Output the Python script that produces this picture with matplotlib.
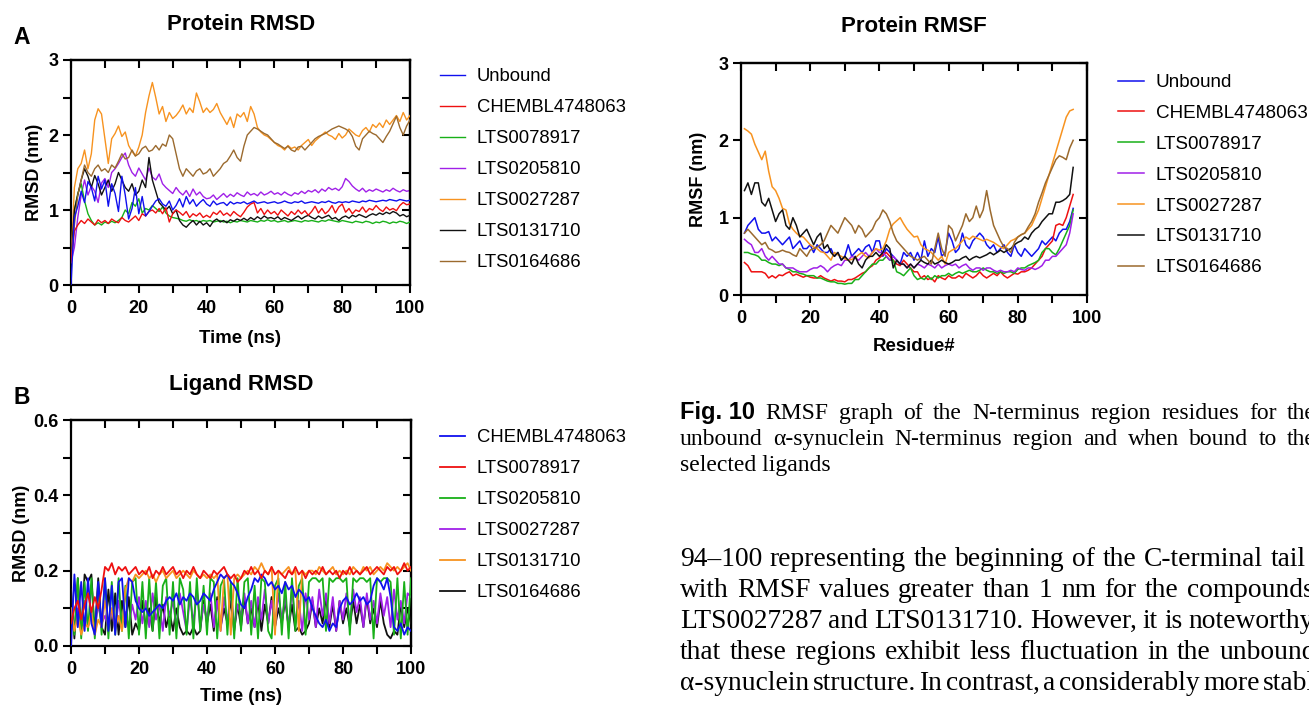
import numpy as np
import matplotlib
matplotlib.use("Agg")
import matplotlib.pyplot as plt
from matplotlib.ticker import MultipleLocator

W, H = 1309, 706

# ---------------- data ----------------
labels_A = ["Unbound", "CHEMBL4748063", "LTS0078917", "LTS0205810",
            "LTS0027287", "LTS0131710", "LTS0164686"]
labels_B = ["CHEMBL4748063", "LTS0078917", "LTS0205810", "LTS0027287",
            "LTS0131710", "LTS0164686"]
colors = ["#1010ee", "#ee1010", "#18b018", "#a020e8", "#f79320", "#111111", "#9b6a2e"]

# Protein RMSD (nm), one value per ns, 0..100
rmsd_unbound = [0.00, 0.90, 1.05, 1.25, 1.10, 1.38, 1.30, 1.12, 1.45, 1.28, 1.40,
                1.05, 1.35, 1.22, 0.98, 1.45, 1.20, 0.88, 1.02, 1.30, 0.95,
                1.18, 0.92, 0.98, 1.05, 1.12, 1.15, 1.08, 1.05, 1.12, 1.00,
                1.06, 1.15, 1.04, 1.18, 1.08, 1.14, 1.05, 1.10, 1.14, 1.08,
                1.05, 1.12, 1.07, 1.09, 1.10, 1.06, 1.11, 1.08, 1.10, 1.09,
                1.11, 1.08, 1.10, 1.12, 1.09, 1.10, 1.11, 1.09, 1.10, 1.11,
                1.09, 1.10, 1.12, 1.10, 1.09, 1.11, 1.10, 1.12, 1.09, 1.10,
                1.11, 1.10, 1.09, 1.11, 1.10, 1.12, 1.10, 1.09, 1.11, 1.10,
                1.11, 1.10, 1.12, 1.11, 1.10, 1.12, 1.11, 1.13, 1.12, 1.11,
                1.12, 1.13, 1.12, 1.14, 1.13, 1.12, 1.14, 1.13, 1.12, 1.13]
rmsd_chembl = [0.30, 0.72, 0.80, 0.86, 0.82, 0.88, 0.84, 0.80, 0.87, 0.83, 0.86,
               0.82, 0.88, 0.85, 0.83, 0.90, 0.86, 0.84, 0.88, 0.92, 0.86,
               0.95, 0.92, 0.98, 1.00, 0.96, 1.02, 0.95, 1.03, 0.84, 0.95,
               1.00, 0.97, 0.93, 0.98, 0.90, 0.95, 0.92, 0.96, 0.90, 0.93,
               0.90, 0.97, 0.94, 0.99, 0.93, 0.96, 0.92, 0.98, 0.94, 0.91,
               0.97, 1.04, 1.08, 1.10, 0.96, 1.02, 0.94, 1.00, 0.95, 0.98,
               0.93, 1.00, 0.96, 0.92, 0.98, 0.94, 1.00, 0.95, 0.99, 0.93,
               0.98, 1.05, 0.96, 1.02, 0.95, 0.99, 1.06, 0.96, 1.04, 1.08,
               0.97, 1.02, 0.95, 1.00, 0.98, 1.04, 0.97, 1.02, 1.00, 1.06,
               1.01, 0.98, 1.04, 1.00, 1.02, 0.99, 1.06, 1.10, 1.07, 1.08]
rmsd_78917 = [0.30, 1.00, 1.22, 1.35, 1.12, 0.95, 0.86, 0.80, 0.83, 0.80, 0.84,
              0.82, 0.85, 0.83, 0.86, 0.90, 1.00, 0.95, 1.10, 1.05, 1.15,
              0.96, 1.02, 1.00, 1.06, 1.02, 0.98, 1.04, 0.96, 0.92, 0.90,
              0.89, 0.88, 0.86, 0.85, 0.87, 0.85, 0.86, 0.84, 0.86, 0.85,
              0.86, 0.84, 0.85, 0.86, 0.84, 0.85, 0.83, 0.85, 0.84, 0.86,
              0.85, 0.84, 0.86, 0.85, 0.84, 0.86, 0.85, 0.87, 0.85, 0.86,
              0.84, 0.85, 0.86, 0.84, 0.85, 0.86, 0.85, 0.84, 0.86, 0.85,
              0.86, 0.85, 0.84, 0.86, 0.85, 0.87, 0.86, 0.85, 0.84, 0.86,
              0.85, 0.84, 0.83, 0.85, 0.84, 0.83, 0.85, 0.84, 0.82, 0.84,
              0.83, 0.85, 0.84, 0.82, 0.84, 0.83, 0.85, 0.84, 0.82, 0.84]
rmsd_205810 = [0.30, 0.50, 0.90, 1.20, 1.40, 1.20, 1.32, 1.25, 1.10, 1.36, 1.42,
               1.30, 1.50, 1.55, 1.62, 1.70, 1.76, 1.60, 1.50, 1.45, 1.56,
               1.48, 1.40, 1.56, 1.44, 1.40, 1.48, 1.35, 1.30, 1.26, 1.22,
               1.30, 1.24, 1.20, 1.26, 1.18, 1.28, 1.20, 1.24, 1.18, 1.15,
               1.16, 1.20, 1.14, 1.18, 1.22, 1.17, 1.21, 1.18, 1.23, 1.20,
               1.18, 1.24, 1.20, 1.22, 1.19, 1.24, 1.20, 1.22, 1.25, 1.21,
               1.23, 1.20, 1.24, 1.21, 1.19, 1.23, 1.21, 1.25, 1.22, 1.26,
               1.24, 1.27, 1.23, 1.28, 1.25, 1.30, 1.27, 1.29, 1.26, 1.31,
               1.42, 1.38, 1.32, 1.28, 1.25, 1.29, 1.24, 1.27, 1.25, 1.28,
               1.26, 1.24, 1.27, 1.25, 1.29, 1.26, 1.24, 1.27, 1.25, 1.26]
rmsd_27287 = [0.30, 1.30, 1.55, 1.62, 1.80, 1.55, 1.75, 2.20, 2.35, 2.28, 1.95,
              1.62, 1.95, 2.02, 2.12, 1.98, 2.04, 1.86, 1.78, 1.72, 1.84,
              2.00, 2.30, 2.52, 2.70, 2.50, 2.28, 2.38, 2.18, 2.30, 2.22,
              2.26, 2.32, 2.40, 2.28, 2.36, 2.30, 2.56, 2.44, 2.30, 2.36,
              2.30, 2.34, 2.42, 2.30, 2.22, 2.14, 2.24, 2.10, 2.28, 2.24,
              2.30, 2.18, 2.38, 2.28, 2.10, 2.04, 2.00, 1.98, 1.94, 1.90,
              1.86, 1.84, 1.80, 1.86, 1.82, 1.84, 1.80, 1.86, 1.90, 1.94,
              1.86, 1.92, 1.96, 2.00, 2.04, 2.00, 1.98, 1.94, 2.02, 1.96,
              2.00, 2.08, 2.04, 2.00, 1.98, 2.06, 2.10, 2.04, 2.14, 2.10,
              2.16, 2.10, 2.20, 2.14, 2.20, 2.26, 2.18, 2.30, 2.20, 2.26]
rmsd_131710 = [0.30, 1.00, 1.20, 1.40, 1.55, 1.45, 1.30, 1.46, 1.35, 1.20, 1.30,
               1.40, 1.25, 1.35, 1.50, 1.40, 1.30, 1.25, 1.35, 1.20, 1.25,
               1.40, 1.30, 1.70, 1.40, 1.25, 1.10, 1.05, 1.00, 1.05, 0.95,
               1.00, 0.86, 0.80, 0.77, 0.82, 0.86, 0.80, 0.85, 0.80, 0.83,
               0.78, 0.85, 0.88, 0.84, 0.86, 0.83, 0.87, 0.85, 0.88, 0.86,
               0.89, 0.86, 0.90, 0.87, 0.91, 0.88, 0.92, 0.89, 0.90, 0.88,
               0.91, 0.87, 0.90, 0.88, 0.86, 0.89, 0.92, 0.88, 0.91, 0.93,
               0.90, 0.88, 0.92, 0.89, 0.91, 0.93, 0.88, 0.90, 0.86, 0.90,
               0.92, 0.89, 0.93, 0.91, 0.94, 0.92, 0.90, 0.93, 0.95, 0.93,
               0.96, 0.94, 0.97, 0.95, 0.98, 0.96, 0.92, 0.94, 0.91, 0.93]
rmsd_164686 = [0.30, 0.80, 1.20, 1.40, 1.60, 1.50, 1.45, 1.55, 1.60, 1.52, 1.55,
               1.50, 1.60, 1.56, 1.65, 1.75, 1.68, 1.70, 1.80, 1.72, 1.75,
               1.82, 1.85, 1.78, 1.80, 1.86, 1.80, 1.88, 1.85, 2.00, 1.95,
               1.75, 1.55, 1.45, 1.55, 1.50, 1.45, 1.52, 1.55, 1.48, 1.50,
               1.55, 1.45, 1.50, 1.55, 1.62, 1.65, 1.72, 1.80, 1.70, 1.65,
               1.85, 2.00, 2.05, 2.10, 2.08, 2.05, 2.02, 2.00, 1.95, 1.90,
               1.88, 1.85, 1.82, 1.85, 1.80, 1.78, 1.84, 1.85, 1.80, 1.85,
               1.90, 1.95, 1.98, 2.00, 2.02, 2.05, 2.08, 2.10, 2.12, 2.10,
               2.08, 2.05, 1.98, 1.85, 1.80, 1.95, 2.00, 2.05, 2.02, 2.00,
               1.95, 1.90, 1.98, 2.05, 2.15, 2.25, 2.10, 2.00, 2.12, 2.20]

# Ligand RMSD (nm), one value per ns, 0..100
lig_chembl = [0.00, 0.19, 0.05, 0.17, 0.04, 0.18, 0.06, 0.03, 0.17, 0.05, 0.18,
              0.04, 0.16, 0.03, 0.17, 0.18, 0.05, 0.18, 0.17, 0.12, 0.10,
              0.09, 0.10, 0.08, 0.09, 0.10, 0.11, 0.10, 0.12, 0.13, 0.12,
              0.14, 0.11, 0.13, 0.12, 0.14, 0.13, 0.11, 0.12, 0.14, 0.13,
              0.12, 0.15, 0.17, 0.19, 0.18, 0.19, 0.17, 0.16, 0.14, 0.11,
              0.10, 0.13, 0.15, 0.18, 0.17, 0.19, 0.18, 0.16, 0.17, 0.15,
              0.16, 0.14, 0.17, 0.15, 0.16, 0.13, 0.15, 0.14, 0.12, 0.13,
              0.10, 0.08, 0.06, 0.05, 0.07, 0.04, 0.06, 0.05, 0.10, 0.12,
              0.13, 0.11, 0.12, 0.14, 0.12, 0.13, 0.11, 0.12, 0.16, 0.18,
              0.17, 0.15, 0.18, 0.13, 0.05, 0.04, 0.06, 0.03, 0.05, 0.04]
lig_78917 = [0.06, 0.10, 0.12, 0.07, 0.11, 0.14, 0.09, 0.13, 0.10, 0.15, 0.21,
             0.20, 0.22, 0.19, 0.21, 0.20, 0.21, 0.19, 0.20, 0.21, 0.19,
             0.20, 0.19, 0.21, 0.18, 0.20, 0.19, 0.21, 0.19, 0.20, 0.21,
             0.19, 0.20, 0.18, 0.20, 0.19, 0.21, 0.19, 0.18, 0.20, 0.19,
             0.18, 0.20, 0.19, 0.20, 0.21, 0.19, 0.18, 0.19, 0.17, 0.18,
             0.20, 0.19, 0.21, 0.19, 0.20, 0.18, 0.20, 0.19, 0.21, 0.19,
             0.20, 0.19, 0.18, 0.20, 0.19, 0.21, 0.19, 0.20, 0.18, 0.20,
             0.19, 0.20, 0.19, 0.21, 0.19, 0.20, 0.19, 0.20, 0.18, 0.20,
             0.19, 0.21, 0.19, 0.20, 0.19, 0.20, 0.21, 0.19, 0.20, 0.21,
             0.20, 0.19, 0.21, 0.20, 0.21, 0.19, 0.20, 0.22, 0.20, 0.21]
lig_205810 = [0.10, 0.03, 0.18, 0.02, 0.17, 0.04, 0.18, 0.02, 0.16, 0.03, 0.18,
              0.02, 0.17, 0.03, 0.18, 0.04, 0.16, 0.02, 0.17, 0.18, 0.03,
              0.17, 0.02, 0.18, 0.04, 0.17, 0.02, 0.16, 0.18, 0.03, 0.17,
              0.02, 0.18, 0.15, 0.03, 0.17, 0.02, 0.18, 0.04, 0.16, 0.03,
              0.18, 0.17, 0.02, 0.16, 0.18, 0.03, 0.17, 0.02, 0.18, 0.04,
              0.17, 0.18, 0.03, 0.16, 0.02, 0.18, 0.17, 0.04, 0.02, 0.16,
              0.18, 0.03, 0.17, 0.02, 0.18, 0.04, 0.16, 0.18, 0.03, 0.17,
              0.18, 0.18, 0.17, 0.18, 0.04, 0.18, 0.17, 0.18, 0.18, 0.17,
              0.18, 0.03, 0.18, 0.17, 0.18, 0.18, 0.17, 0.18, 0.02, 0.18,
              0.17, 0.18, 0.18, 0.17, 0.03, 0.18, 0.02, 0.17, 0.03, 0.18]
lig_27287 = [0.08, 0.05, 0.10, 0.06, 0.12, 0.05, 0.09, 0.04, 0.11, 0.06, 0.08,
             0.05, 0.10, 0.04, 0.12, 0.06, 0.09, 0.05, 0.11, 0.07, 0.13,
             0.06, 0.12, 0.05, 0.14, 0.07, 0.11, 0.04, 0.13, 0.08, 0.12,
             0.05, 0.14, 0.09, 0.04, 0.13, 0.06, 0.15, 0.05, 0.11, 0.07,
             0.14, 0.05, 0.12, 0.04, 0.13, 0.06, 0.15, 0.05, 0.11, 0.08,
             0.14, 0.06, 0.12, 0.05, 0.13, 0.07, 0.15, 0.06, 0.12, 0.05,
             0.14, 0.07, 0.13, 0.05, 0.15, 0.06, 0.12, 0.04, 0.14, 0.07,
             0.13, 0.05, 0.15, 0.08, 0.14, 0.06, 0.13, 0.04, 0.12, 0.07,
             0.14, 0.06, 0.15, 0.09, 0.13, 0.05, 0.14, 0.07, 0.12, 0.06,
             0.14, 0.08, 0.13, 0.05, 0.15, 0.07, 0.12, 0.06, 0.14, 0.13]
lig_131710 = [0.10, 0.04, 0.08, 0.03, 0.06, 0.05, 0.09, 0.03, 0.07, 0.05, 0.12,
              0.06, 0.10, 0.05, 0.08, 0.04, 0.15, 0.18, 0.17, 0.19, 0.18,
              0.19, 0.20, 0.18, 0.19, 0.17, 0.19, 0.20, 0.18, 0.19, 0.20,
              0.18, 0.19, 0.20, 0.19, 0.18, 0.20, 0.19, 0.18, 0.19, 0.18,
              0.19, 0.18, 0.19, 0.04, 0.18, 0.19, 0.03, 0.18, 0.19, 0.18,
              0.19, 0.20, 0.19, 0.21, 0.20, 0.22, 0.20, 0.19, 0.21, 0.03,
              0.20, 0.19, 0.20, 0.21, 0.19, 0.20, 0.04, 0.20, 0.19, 0.20,
              0.20, 0.19, 0.21, 0.20, 0.19, 0.20, 0.21, 0.19, 0.20, 0.19,
              0.20, 0.19, 0.21, 0.20, 0.19, 0.21, 0.20, 0.21, 0.19, 0.20,
              0.21, 0.20, 0.22, 0.21, 0.20, 0.21, 0.20, 0.21, 0.22, 0.20]
lig_164686 = [0.15, 0.02, 0.18, 0.04, 0.19, 0.17, 0.19, 0.03, 0.18, 0.05, 0.03,
              0.15, 0.04, 0.14, 0.03, 0.12, 0.05, 0.13, 0.03, 0.06, 0.04,
              0.12, 0.05, 0.10, 0.04, 0.13, 0.06, 0.11, 0.05, 0.09, 0.04,
              0.10, 0.05, 0.03, 0.04, 0.03, 0.05, 0.03, 0.04, 0.12, 0.06,
              0.11, 0.04, 0.13, 0.05, 0.10, 0.06, 0.12, 0.04, 0.11, 0.05,
              0.13, 0.06, 0.10, 0.05, 0.12, 0.04, 0.11, 0.06, 0.13, 0.05,
              0.10, 0.06, 0.12, 0.05, 0.11, 0.04, 0.05, 0.03, 0.04, 0.06,
              0.12, 0.05, 0.10, 0.06, 0.13, 0.05, 0.11, 0.04, 0.12, 0.06,
              0.10, 0.05, 0.12, 0.06, 0.11, 0.05, 0.13, 0.06, 0.10, 0.05,
              0.12, 0.06, 0.03, 0.02, 0.04, 0.03, 0.11, 0.05, 0.10, 0.06]

# Protein RMSF (nm), residues 1..96
rmsf_unbound = [0.80, 0.90, 0.95, 1.00, 0.85, 0.80, 0.80, 0.82, 0.70, 0.75,
                0.70, 0.65, 0.70, 0.75, 0.60, 0.65, 0.70, 0.60, 0.60, 0.65,
                0.55, 0.65, 0.60, 0.55, 0.55, 0.60, 0.50, 0.55, 0.45, 0.50,
                0.65, 0.50, 0.55, 0.60, 0.55, 0.62, 0.65, 0.55, 0.70, 0.70,
                0.50, 0.60, 0.55, 0.50, 0.45, 0.40, 0.55, 0.50, 0.55, 0.45,
                0.55, 0.45, 0.70, 0.50, 0.60, 0.55, 0.75, 0.50, 0.55, 0.80,
                0.70, 0.55, 0.60, 0.80, 0.65, 0.60, 0.70, 0.75, 0.80, 0.75,
                0.65, 0.60, 0.65, 0.55, 0.60, 0.65, 0.55, 0.50, 0.65, 0.55,
                0.50, 0.60, 0.55, 0.50, 0.55, 0.60, 0.70, 0.65, 0.70, 0.75,
                0.70, 0.80, 0.85, 0.85, 0.95, 1.12]
rmsf_chembl = [0.42, 0.38, 0.30, 0.30, 0.30, 0.30, 0.28, 0.22, 0.25, 0.22,
               0.26, 0.25, 0.28, 0.30, 0.25, 0.27, 0.25, 0.23, 0.25, 0.23,
               0.22, 0.22, 0.25, 0.22, 0.20, 0.18, 0.20, 0.18, 0.18, 0.17,
               0.20, 0.20, 0.22, 0.25, 0.28, 0.30, 0.35, 0.38, 0.45, 0.48,
               0.52, 0.55, 0.50, 0.45, 0.40, 0.38, 0.45, 0.40, 0.35, 0.30,
               0.30, 0.22, 0.25, 0.20, 0.22, 0.17, 0.25, 0.22, 0.20, 0.25,
               0.22, 0.22, 0.25, 0.22, 0.28, 0.25, 0.22, 0.25, 0.30, 0.25,
               0.22, 0.25, 0.28, 0.25, 0.30, 0.25, 0.22, 0.25, 0.28, 0.27,
               0.30, 0.30, 0.32, 0.35, 0.40, 0.45, 0.50, 0.60, 0.65, 0.70,
               0.90, 0.92, 0.90, 1.00, 1.15, 1.30]
rmsf_78917 = [0.55, 0.55, 0.53, 0.52, 0.50, 0.45, 0.45, 0.42, 0.40, 0.40,
              0.38, 0.40, 0.35, 0.33, 0.30, 0.30, 0.28, 0.27, 0.25, 0.25,
              0.25, 0.22, 0.22, 0.20, 0.18, 0.17, 0.17, 0.15, 0.15, 0.14,
              0.15, 0.15, 0.20, 0.20, 0.25, 0.30, 0.35, 0.40, 0.40, 0.45,
              0.45, 0.50, 0.45, 0.45, 0.30, 0.28, 0.25, 0.30, 0.35, 0.25,
              0.20, 0.22, 0.20, 0.25, 0.20, 0.25, 0.22, 0.25, 0.25, 0.28,
              0.25, 0.28, 0.30, 0.28, 0.30, 0.32, 0.30, 0.30, 0.32, 0.35,
              0.32, 0.30, 0.30, 0.28, 0.30, 0.28, 0.30, 0.30, 0.28, 0.33,
              0.35, 0.35, 0.38, 0.40, 0.42, 0.45, 0.55, 0.60, 0.60, 0.55,
              0.52, 0.60, 0.70, 0.80, 0.90, 1.10]
rmsf_205810 = [0.72, 0.68, 0.65, 0.55, 0.55, 0.60, 0.50, 0.45, 0.50, 0.45,
               0.40, 0.40, 0.35, 0.35, 0.35, 0.32, 0.30, 0.30, 0.30, 0.33,
               0.35, 0.35, 0.38, 0.35, 0.30, 0.35, 0.38, 0.40, 0.38, 0.45,
               0.45, 0.50, 0.48, 0.45, 0.50, 0.55, 0.50, 0.55, 0.60, 0.55,
               0.55, 0.50, 0.45, 0.50, 0.45, 0.40, 0.40, 0.35, 0.40, 0.35,
               0.40, 0.38, 0.35, 0.40, 0.38, 0.35, 0.40, 0.35, 0.38, 0.40,
               0.38, 0.40, 0.35, 0.38, 0.40, 0.35, 0.32, 0.35, 0.35, 0.32,
               0.35, 0.35, 0.32, 0.30, 0.32, 0.30, 0.30, 0.32, 0.30, 0.35,
               0.33, 0.32, 0.35, 0.35, 0.33, 0.35, 0.38, 0.45, 0.45, 0.50,
               0.50, 0.55, 0.60, 0.65, 0.80, 1.05]
rmsf_27287 = [2.15, 2.12, 2.08, 1.95, 1.85, 1.75, 1.86, 1.60, 1.40, 1.35,
              1.25, 1.12, 1.10, 0.92, 0.85, 0.80, 0.76, 0.75, 0.70, 0.65,
              0.62, 0.60, 0.56, 0.55, 0.50, 0.45, 0.55, 0.52, 0.50, 0.47,
              0.45, 0.46, 0.48, 0.52, 0.55, 0.50, 0.48, 0.55, 0.60, 0.58,
              0.60, 0.70, 0.85, 0.92, 0.96, 1.00, 0.92, 0.85, 0.80, 0.75,
              0.76, 0.65, 0.60, 0.58, 0.55, 0.50, 0.45, 0.50, 0.40, 0.55,
              0.58, 0.60, 0.65, 0.70, 0.75, 0.72, 0.76, 0.74, 0.72, 0.70,
              0.72, 0.70, 0.68, 0.65, 0.62, 0.60, 0.65, 0.70, 0.72, 0.75,
              0.78, 0.80, 0.85, 0.90, 1.00, 1.10, 1.25, 1.40, 1.55, 1.70,
              1.85, 2.00, 2.15, 2.30, 2.38, 2.40]
rmsf_131710 = [1.35, 1.45, 1.30, 1.45, 1.45, 1.20, 1.15, 1.25, 1.10, 0.95,
               1.05, 1.10, 0.90, 0.85, 1.00, 0.90, 0.75, 0.80, 0.85, 0.75,
               0.65, 0.75, 0.80, 0.60, 0.65, 0.55, 0.50, 0.55, 0.45, 0.50,
               0.45, 0.40, 0.50, 0.40, 0.35, 0.45, 0.50, 0.50, 0.55, 0.50,
               0.55, 0.65, 0.60, 0.35, 0.45, 0.40, 0.40, 0.35, 0.40, 0.35,
               0.40, 0.45, 0.42, 0.40, 0.45, 0.40, 0.42, 0.45, 0.42, 0.40,
               0.42, 0.45, 0.45, 0.48, 0.50, 0.45, 0.48, 0.50, 0.48, 0.50,
               0.52, 0.55, 0.52, 0.55, 0.58, 0.55, 0.58, 0.60, 0.65, 0.68,
               0.70, 0.75, 0.72, 0.80, 0.85, 0.88, 0.95, 1.00, 1.05, 1.05,
               1.20, 1.20, 1.22, 1.25, 1.30, 1.65]
rmsf_164686 = [0.80, 0.85, 0.80, 0.75, 0.70, 0.65, 0.68, 0.60, 0.58, 0.55,
               0.56, 0.58, 0.56, 0.55, 0.52, 0.50, 0.60, 0.55, 0.50, 0.58,
               0.60, 0.62, 0.65, 0.70, 0.80, 0.90, 0.85, 0.80, 0.90, 1.00,
               0.95, 0.90, 0.80, 0.90, 0.85, 0.75, 0.80, 0.85, 0.95, 1.00,
               1.10, 1.05, 0.95, 0.80, 0.70, 0.65, 0.60, 0.55, 0.50, 0.48,
               0.45, 0.48, 0.50, 0.45, 0.40, 0.60, 0.80, 0.60, 0.50, 0.90,
               0.85, 0.70, 0.80, 0.90, 1.05, 0.95, 1.00, 1.15, 1.00, 1.10,
               1.35, 1.10, 0.90, 0.80, 0.70, 0.62, 0.60, 0.55, 0.68, 0.75,
               0.78, 0.80, 0.88, 0.95, 1.05, 1.20, 1.32, 1.45, 1.55, 1.65,
               1.75, 1.80, 1.78, 1.75, 1.90, 2.00]

xticks = [0, 20, 40, 60, 80, 100]
yticks_A = [0, 1, 2, 3]
yticks_B = [0.0, 0.2, 0.4, 0.6]

caption_1 = "RMSF graph of the N-terminus region residues for the"
caption_2 = "unbound \u03b1-synuclein N-terminus region and when bound to the"
caption_3 = "selected ligands"
body = ["94\u2013100 representing the beginning of the C-terminal tail",
        "with RMSF values greater than 1 nm for the compounds",
        "LTS0027287 and LTS0131710. However, it is noteworthy",
        "that these regions exhibit less fluctuation in the unbound",
        "\u03b1-synuclein structure. In contrast, a considerably more stable"]

# ---------------- figure ----------------
SANS = "Liberation Sans"
SERIF = "Liberation Serif"
plt.rcParams["font.family"] = SANS

fig = plt.figure(figsize=(W / 100, H / 100), dpi=100)


def px_axes(left, top, right, bottom):
    return fig.add_axes([left / W, 1 - bottom / H, (right - left) / W, (bottom - top) / H])


def style(ax, ymax, ymaj_labels, yminor, ytop_step, xtop_step, yfmt):
    ax.set_xlim(0, 100)
    ax.set_ylim(0, ymax)
    for s in ax.spines.values():
        s.set_linewidth(1.6)
    ax.set_xticks(xticks, [str(v) for v in xticks], fontweight="bold", fontsize=13)
    ax.set_yticks(ymaj_labels, [yfmt.format(v) for v in ymaj_labels], fontweight="bold", fontsize=13)
    ax.xaxis.set_minor_locator(MultipleLocator(10))
    if yminor:
        ax.yaxis.set_minor_locator(MultipleLocator(yminor))
    ax.tick_params(which="both", direction="out", length=6, width=1.5, pad=3)
    ax.tick_params(axis="x", which="major", pad=5)
    top = ax.secondary_xaxis("top")
    top.xaxis.set_major_locator(MultipleLocator(xtop_step))
    top.tick_params(direction="in", length=6, width=1.5, labeltop=False)
    top.spines["top"].set_linewidth(1.6)
    right = ax.secondary_yaxis("right")
    right.yaxis.set_major_locator(MultipleLocator(ytop_step))
    right.tick_params(direction="in", length=6, width=1.5, labelright=False)
    right.spines["right"].set_linewidth(1.6)


def legend(ax, handles, labels, x, y, size, spacing):
    ax.legend(handles, labels, loc="upper left", bbox_to_anchor=(x / W, 1 - y / H),
              bbox_transform=fig.transFigure, frameon=False, borderpad=0, borderaxespad=0,
              handlelength=1.35, handletextpad=0.65, labelspacing=spacing,
              prop={"family": SANS, "size": size})


# ----- A: protein RMSD -----
axA = px_axes(71, 60, 410, 285)
series_A = [rmsd_unbound, rmsd_chembl, rmsd_78917, rmsd_205810,
            rmsd_27287, rmsd_131710, rmsd_164686]
order_A = [6, 5, 1, 0, 2, 3, 4]
hA = []
for i, vals in enumerate(series_A):
    t = np.linspace(0, 100, len(vals))
    (ln,) = axA.plot(t, vals, color=colors[i], lw=1.0, zorder=order_A[i] + 2)
    hA.append(ln)
style(axA, 3, yticks_A, 0.5, 0.5, 10, "{:d}")
axA.set_xlabel("Time (ns)", fontweight="bold", fontsize=13.4, labelpad=9)
axA.set_ylabel("RMSD (nm)", fontweight="bold", fontsize=13, labelpad=4)
legend(axA, hA, labels_A, 440, 68, 13.3, 0.76)

# ----- B: ligand RMSD -----
axB = px_axes(71, 420, 411, 646)
series_B = [lig_chembl, lig_78917, lig_205810, lig_27287, lig_131710, lig_164686]
order_B = [5, 6, 3, 2, 4, 1]
hB = []
for i, vals in enumerate(series_B):
    t = np.linspace(0, 100, len(vals))
    (ln,) = axB.plot(t, vals, color=colors[i], lw=1.3, zorder=order_B[i] + 2)
    hB.append(ln)
style(axB, 0.6, yticks_B, 0.1, 0.1, 10, "{:.1f}")
axB.set_xlabel("Time (ns)", fontweight="bold", fontsize=13.4, labelpad=7)
axB.set_ylabel("RMSD (nm)", fontweight="bold", fontsize=13, labelpad=2)
legend(axB, hB, labels_B, 440, 429, 13.3, 0.76)

# ----- C: protein RMSF -----
axC = px_axes(741, 63, 1087, 295)
series_C = [rmsf_unbound, rmsf_chembl, rmsf_78917, rmsf_205810,
            rmsf_27287, rmsf_131710, rmsf_164686]
hC = []
for i, vals in enumerate(series_C):
    r = np.arange(1, len(vals) + 1)
    (ln,) = axC.plot(r, vals, color=colors[i], lw=1.1)
    hC.append(ln)
style(axC, 3, yticks_A, None, 1, 10, "{:d}")
axC.set_xlabel("Residue#", fontweight="bold", fontsize=13.4, labelpad=8)
axC.set_ylabel("RMSF (nm)", fontweight="bold", fontsize=13, labelpad=8)
legend(axC, hC, labels_A, 1118, 74, 13.6, 0.72)

# titles and panel letters
def ftext(x, y, s, **kw):
    return fig.text(x / W, 1 - y / H, s, **kw)


ftext(241, 25, "Protein RMSD", ha="center", va="center", fontweight="bold", fontsize=16)
ftext(241, 384, "Ligand RMSD", ha="center", va="center", fontweight="bold", fontsize=16)
ftext(914, 27, "Protein RMSF", ha="center", va="center", fontweight="bold", fontsize=16)
ftext(22, 38, "A", ha="center", va="center", fontweight="bold", fontsize=16.5)
ftext(22, 398, "B", ha="center", va="center", fontweight="bold", fontsize=16.5)

# page text (caption + body), justified word by word
renderer = fig.canvas.get_renderer()


def justified(tokens, x0, x1, y, size, min_gap=4):
    arts = []
    for s, fam, wt in tokens:
        arts.append(ftext(0, y, s, family=fam, fontweight=wt, fontsize=size, va="baseline"))
    widths = [a.get_window_extent(renderer).width for a in arts]
    gap = max((x1 - x0 - sum(widths)) / max(len(arts) - 1, 1), min_gap)
    x = x0
    for a, w in zip(arts, widths):
        a.set_x(x / W)
        x += w + gap


def words(line):
    return [(w, SERIF, "normal") for w in line.split(" ")]


cap_size = 17
justified([("Fig. 10", ["Liberation Sans Narrow", SANS], "bold")] + words(caption_1), 680, 1316, 419, cap_size)
justified(words(caption_2), 680, 1316, 445, cap_size)
ftext(680, 471, caption_3, family=SERIF, fontsize=cap_size, va="baseline")

body_size = 19.8
ends = [1306, 1314, 1314, 1316, 1316]
for k, line in enumerate(body):
    justified(words(line), 680, ends[k], 566 + 31 * k, body_size, min_gap=3.5)

fig.savefig("out.png", dpi=100)
